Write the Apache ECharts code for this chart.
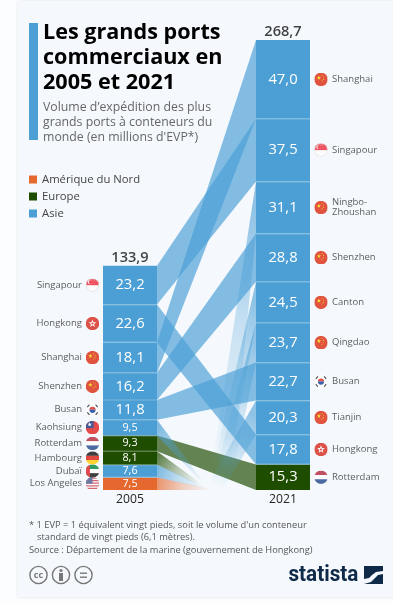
<!DOCTYPE html>
<html><head><meta charset="utf-8">
<style>html,body{margin:0;padding:0;background:#fcfdfe}#c{width:393px;height:603px}</style>
<script src="https://cdn.jsdelivr.net/npm/echarts@6/dist/echarts.min.js"></script>
</head><body><div id="c"></div>
<script>
const years = ['2005', '2021'];
const regions = ['Amérique du Nord', 'Europe', 'Asie'];
// listed top to bottom, as in the picture
const ports2005   = ['Singapour','Hongkong','Shanghai','Shenzhen','Busan','Kaohsiung','Rotterdam','Hambourg','Dubaï','Los Angeles'];
const values2005  = [23.2,22.6,18.1,16.2,11.8,9.5,9.3,8.1,7.6,7.5];
const regions2005 = ['Asie','Asie','Asie','Asie','Asie','Asie','Europe','Europe','Asie','Amérique du Nord'];
const total2005 = 133.9;
const ports2021   = ['Shanghai','Singapour','Ningbo-\nZhoushan','Shenzhen','Canton','Qingdao','Busan','Tianjin','Hongkong','Rotterdam'];
const values2021  = [47.0,37.5,31.1,28.8,24.5,23.7,22.7,20.3,17.8,15.3];
const regions2021 = ['Asie','Asie','Asie','Asie','Asie','Asie','Asie','Asie','Asie','Europe'];
const total2021 = 268.7;
const flags2005 = ['sg','hk','cn','cn','kr','tw','nl','de','ae','us'];
const flags2021 = ['cn','sg','cn','cn','cn','cn','kr','cn','hk','nl'];
// ports without a counterpart: where their fading ribbon ends [gap fraction a, b, axis value a, b]
const tails2005 = {'Kaohsiung':[.48,.48,4,3],'Hambourg':[.43,.44,4.5,2.5],'Dubaï':[.48,.48,2,1],'Los Angeles':[.55,.55,.6,0]};
const tails2021 = {'Ningbo-\nZhoushan':[.55,.76,12,12],'Canton':[.56,.72,12,12],'Qingdao':[.58,.76,9,9],'Tianjin':[.5,.68,2,2]};

const regionColors = {'Amérique du Nord':'#e5692f','Europe':'#1e4d00','Asie':'#4b9fd5'};
const rgb = {'Amérique du Nord':'229,105,47','Europe':'30,77,0','Asie':'75,159,213'};
const BAR_W = 54;
const dec = v => v.toFixed(1).replace('.', ',');

// stack boundaries: top-to-bottom lists -> [low, high] in axis units
function spans(vals, total){
  let top = total; const out = [];
  vals.forEach(v => { out.push([top - v, top]); top -= v; });
  out[out.length-1][0] = 0;
  return out;
}
const s05 = spans(values2005, total2005), s21 = spans(values2021, total2021);

// flags
const clip = b => `<svg xmlns="http://www.w3.org/2000/svg" viewBox="0 0 26 26"><defs><clipPath id="k"><circle cx="13" cy="13" r="13"/></clipPath></defs><g clip-path="url(#k)">${b}</g></svg>`;
const star = (x,y,r,f) => { let p=[]; for(let i=0;i<10;i++){const a=-Math.PI/2+i*Math.PI/5,q=i%2?r*.4:r;p.push((x+q*Math.cos(a)).toFixed(1)+','+(y+q*Math.sin(a)).toFixed(1));} return `<polygon points="${p.join(' ')}" fill="${f}"/>`; };
const flagSvg = {
  cn: clip(`<rect width="26" height="26" fill="#dc2a10"/>`+star(9,10,4.5,'#ffd800')+star(15,5,1.5,'#ffd800')+star(18,8.5,1.5,'#ffd800')+star(18,13,1.5,'#ffd800')+star(15,16,1.5,'#ffd800')),
  sg: clip(`<rect width="26" height="26" fill="#fff"/><rect width="26" height="13" fill="#ee2436"/><circle cx="8" cy="7" r="4" fill="#fff"/><circle cx="10" cy="7" r="4" fill="#ee2436"/>`+star(12,4,1,'#fff')+star(16,5,1,'#fff')+star(12,9,1,'#fff')+star(17,9,1,'#fff')+`<circle cx="13" cy="13" r="12.2" fill="none" stroke="#ccc" stroke-width="1.4"/>`),
  hk: clip(`<rect width="26" height="26" fill="#d8291c"/>`+star(13,13,8,'#fff')+`<circle cx="13" cy="13" r="2" fill="#d8291c"/>`),
  kr: clip(`<rect width="26" height="26" fill="#fff"/><path d="M7 13a6 6 0 0 1 12 0z" fill="#d8291c"/><path d="M7 13a6 6 0 0 0 12 0z" fill="#0b3c9c"/><g stroke="#222" stroke-width="2.2"><path d="M3 8l4-5M19 3l4 5M3 18l4 5M19 23l4-5"/></g>`),
  tw: clip(`<rect width="26" height="26" fill="#e0201b"/><rect width="15" height="14" fill="#17327e"/>`+star(7.5,7,4.5,'#fff')),
  nl: clip(`<rect width="26" height="9" fill="#b5283a"/><rect y="9" width="26" height="8" fill="#fff"/><rect y="17" width="26" height="9" fill="#22468c"/>`),
  de: clip(`<rect width="26" height="9" fill="#111"/><rect y="9" width="26" height="8" fill="#dd1c10"/><rect y="17" width="26" height="9" fill="#ffcc00"/>`),
  ae: clip(`<rect width="26" height="9" fill="#00843d"/><rect y="9" width="26" height="8" fill="#fff"/><rect y="17" width="26" height="9" fill="#111"/><rect width="8" height="26" fill="#e01a1f"/>`),
  us: clip(`<rect width="26" height="26" fill="#fff"/><path d="M0 2h26M0 7h26M0 12h26M0 17h26M0 22h26" stroke="#c8434f" stroke-width="2.5"/><rect width="13" height="13" fill="#4a5a8c"/>`)
};
const flagUri = k => 'image://data:image/svg+xml;charset=utf-8,' + encodeURIComponent(flagSvg[k]);

// bars: stacked from the bottom
const barSeries = [];
function pushBars(vals, regs, idx){
  for (let i = vals.length - 1; i >= 0; i--) {
    const d = [null, null]; d[idx] = vals[i];
    barSeries.push({
      type:'bar', name:regs[i], stack:'t', data:d, barWidth:BAR_W, z:3, silent:true,
      itemStyle:{color:regionColors[regs[i]]},
      label:{show:true, position:'inside', color:'#fff', fontFamily:'Open Sans',
        fontSize: vals[i] < 11 ? 10.8 : 14.8, formatter: p => dec(p.value)}
    });
  }
}
pushBars(values2005, regions2005, 0);
pushBars(values2021, regions2021, 1);

// ribbons
const gapX = api => {
  const a = api.coord([0,0])[0] + BAR_W/2, b = api.coord([1,0])[0] - BAR_W/2;
  return [a, b];
};
const links = [];
ports2005.forEach((p,i) => {
  const j = ports2021.indexOf(p);
  if (j >= 0) links.push({value:[0,s05[i][1],s05[i][0],s21[j][1],s21[j][0]], reg:regions2005[i]});
});
const linkSeries = {
  type:'custom', z:1, silent:true, clip:false, encode:{x:0,y:1},
  data: links.map(l => l.value),
  renderItem(params, api){
    const [xa,xb] = gapX(api), y = v => api.coord([0,v])[1];
    const reg = links[params.dataIndex].reg;
    return {type:'polygon', shape:{points:[[xa,y(api.value(1))],[xb,y(api.value(3))],[xb,y(api.value(4))],[xa,y(api.value(2))]]},
      style:{fill:`rgba(${rgb[reg]},.68)`}};
  }
};
const tails = [];
ports2005.forEach((p,i)=>{ if(tails2005[p]) tails.push({side:0,span:s05[i],t:tails2005[p],reg:regions2005[i]}); });
ports2021.forEach((p,i)=>{ if(tails2021[p]) tails.push({side:1,span:s21[i],t:tails2021[p],reg:regions2021[i]}); });
const tailSeries = {
  type:'custom', z:1, silent:true, clip:false, encode:{x:0,y:1},
  data: tails.map(t => [0, t.span[1], t.span[0]]),
  renderItem(params, api){
    const t = tails[params.dataIndex];
    const [xa,xb] = gapX(api), y = v => api.coord([0,v])[1];
    const sx = t.side ? xb : xa;
    const px = f => xa + (xb-xa)*f;
    const A=[sx,y(t.span[1])], B=[sx,y(t.span[0])], C=[px(t.t[1]),y(t.t[3])], D=[px(t.t[0]),y(t.t[2])];
    const sm=[(A[0]+B[0])/2,(A[1]+B[1])/2], em=[(C[0]+D[0])/2,(C[1]+D[1])/2];
    const a0 = t.side ? .6 : .7;
    const fill = new echarts.graphic.LinearGradient(sm[0],sm[1],em[0],em[1],[
      {offset:0,color:`rgba(${rgb[t.reg]},${a0})`},
      {offset:.45,color:`rgba(${rgb[t.reg]},${a0*.45})`},
      {offset:1,color:`rgba(${rgb[t.reg]},0)`}],true);
    return {type:'polygon', shape:{points:[A,D,C,B]}, style:{fill}};
  }
};
// separators between segments
const seps = [];
s05.slice(0,-1).forEach(s=>seps.push([0,s[0]]));
s21.slice(0,-1).forEach(s=>seps.push([1,s[0]]));
const sepSeries = {
  type:'custom', z:4, silent:true, encode:{x:0,y:1}, data:seps,
  renderItem(params, api){
    const p = api.coord([api.value(0),api.value(1)]);
    return {type:'rect', shape:{x:p[0]-BAR_W/2,y:Math.round(p[1])-.5,width:BAR_W,height:1}, style:{fill:'rgba(255,255,255,.28)'}};
  }
};
// port names and flags
const mids = (sp, idx) => sp.map(s => [idx,(s[0]+s[1])/2]);
const nameSeries = (sp, names, idx) => ({
  type:'scatter', z:5, silent:true, symbolSize:1, itemStyle:{color:'transparent'},
  data: mids(sp,idx).map((v,i)=>({value:v,
    label:{show:true, position: idx?'right':'left', distance:idx?48.5:47.5, formatter:names[i], lineHeight:10,
      fontFamily:'Open Sans', fontSize:9.5, color:'#333'}}))
});
const flagSeries = (sp, keys, idx) => ({
  type:'scatter', z:5, silent:true, symbolSize:13.5, symbolOffset:[idx?38:-37.5,0],
  data: mids(sp,idx).map((v,i)=>({value:v, symbol:flagUri(keys[i])}))
});
const totalSeries = {
  type:'scatter', z:5, silent:true, symbolSize:1, itemStyle:{color:'transparent'},
  data:[[0,total2005],[1,total2021]],
  label:{show:true, position:'top', distance:0, formatter:p=>dec(p.value[1]),
    fontFamily:'Open Sans', fontWeight:600, fontSize:14.6, color:'#111'}
};

const navy = '#0f2a48', grey = '#777';
const T = (x,y,text,size,color,extra) => ({type:'text',x,y,silent:true,style:Object.assign({text,fontFamily:'Open Sans',fontSize:size,fill:color,textVerticalAlign:'middle'},extra||{})});
const ring = (cx) => ({type:'circle',shape:{cx,cy:575,r:8.6},style:{fill:'none',stroke:grey,lineWidth:1.4},silent:true});

const chart = echarts.init(document.getElementById('c'), null, {renderer:'canvas'});
chart.setOption({
  animation:false,
  backgroundColor:'#fcfdfe',
  grid:{left:53.5, width:306, top:40, height:450},
  xAxis:{type:'category', data:years, axisLine:{show:false}, axisTick:{show:false}, splitLine:{show:false},
    axisLabel:{fontFamily:'Open Sans', fontSize:12.2, color:'#222', margin:4}},
  yAxis:{type:'value', min:0, max:total2021, show:false, splitLine:{show:false}},
  title:{left:38, top:16, text:'Les grands ports\ncommerciaux en\n2005 et 2021', itemGap:5,
    textStyle:{fontFamily:'Open Sans', fontWeight:700, fontSize:21.6, lineHeight:24.6, color:'#000'},
    subtext:"Volume d’expédition des plus\ngrands ports à conteneurs du\nmonde (en millions d'EVP*)",
    subtextStyle:{fontFamily:'Open Sans', fontSize:12.3, lineHeight:15, color:'#666'}},
  legend:{left:29, top:174, orient:'vertical', data:regions, selectedMode:false, icon:'rect', itemWidth:8, itemHeight:8, itemGap:6, padding:0,
    textStyle:{fontFamily:'Open Sans', fontSize:11.3, color:'#444'}},
  tooltip:{show:false},
  graphic:[
    {type:'rect', z:-10, silent:true, shape:{x:18,y:1,width:380,height:596}, style:{fill:'#f5f9fd', shadowBlur:3, shadowColor:'rgba(0,0,0,.12)'}},
    {type:'rect', z:-9, silent:true, shape:{x:29,y:23,width:9,height:117}, style:{fill:'#4b9fd5'}},
    T(29,525,"* 1 EVP = 1 équivalent vingt pieds, soit le volume d'un conteneur",9.3,'#555'),
    T(37,537,'standard de vingt pieds (6,1 mètres).',9.3,'#555'),
    T(29,550,'Source : Département de la marine (gouvernement de Hongkong)',9.3,'#555'),
    ring(38.5), ring(61), ring(83.5),
    T(38.5,575.5,'cc',9,grey,{fontWeight:700,textAlign:'center'}),
    {type:'circle',silent:true,shape:{cx:61,cy:570.5,r:1.6},style:{fill:grey}},
    {type:'rect',silent:true,shape:{x:59,y:573,width:4,height:8},style:{fill:grey}},
    {type:'rect',silent:true,shape:{x:80,y:572.5,width:7,height:1.4},style:{fill:grey}},
    {type:'rect',silent:true,shape:{x:80,y:576.5,width:7,height:1.4},style:{fill:grey}},
    Object.assign(T(288.5,575.5,'statista',22,navy,{fontFamily:'Roboto',fontWeight:700}),{scaleX:.94}),
    {type:'rect',silent:true,shape:{x:364,y:566,width:19,height:18},style:{fill:navy}},
    {type:'polygon',silent:true,shape:{points:[[364,579],[369,578],[372,575],[376,572],[383,571],[383,574],[378,575],[375,578],[371,582],[364,584]]},style:{fill:'#f5f9fd'}}
  ],
  series:[linkSeries, tailSeries].concat(barSeries,[sepSeries,
    nameSeries(s05,ports2005,0), nameSeries(s21,ports2021,1),
    flagSeries(s05,flags2005,0), flagSeries(s21,flags2021,1), totalSeries])
});
</script></body></html>
